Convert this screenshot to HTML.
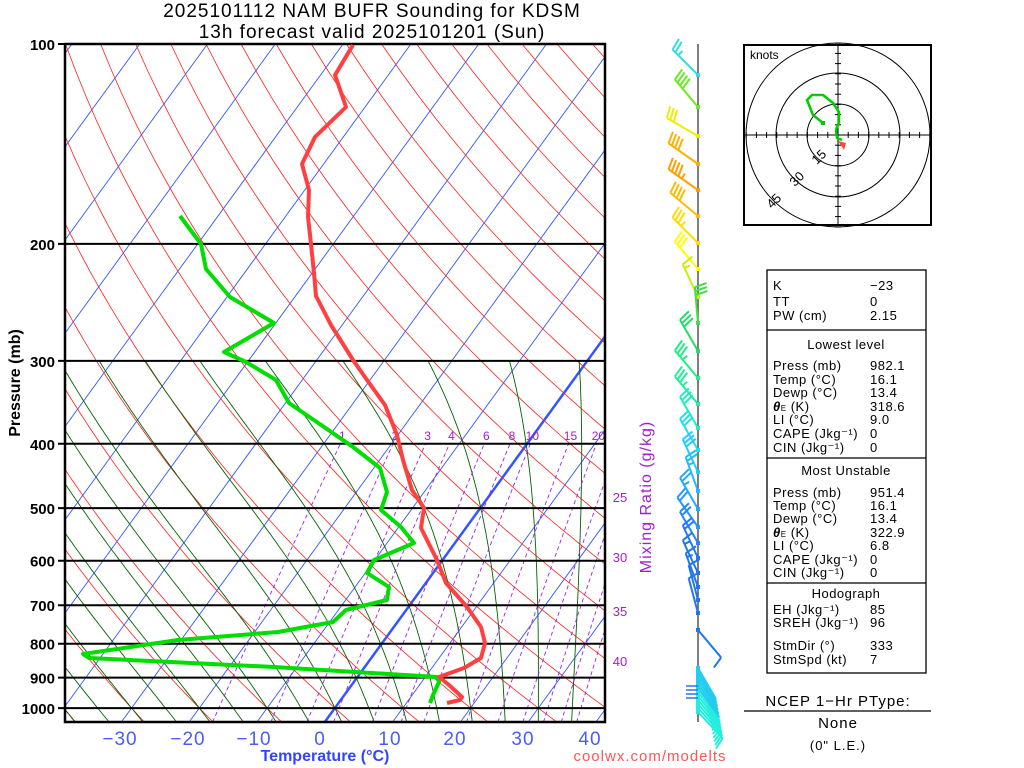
<!DOCTYPE html>
<html><head><meta charset="utf-8"><style>
html,body{margin:0;padding:0;background:#fff;width:1024px;height:768px;overflow:hidden}
svg{display:block}
text{font-family:"Liberation Sans",sans-serif}
</style></head><body>
<svg id="s" width="1024" height="768" viewBox="0 0 1024 768" xmlns="http://www.w3.org/2000/svg">
<defs><clipPath id="c"><rect x="65" y="44" width="540" height="678"/></clipPath></defs>
<g id="bg" clip-path="url(#c)"></g>
<g id="fg"></g>
<text x="372" y="17" font-size="19" text-anchor="middle" letter-spacing="1">2025101112 NAM BUFR Sounding for KDSM</text>
<text x="372" y="38" font-size="19" text-anchor="middle" letter-spacing="1">13h forecast valid 2025101201 (Sun)</text>
<text transform="translate(20,383) rotate(-90)" font-size="16" font-weight="bold" text-anchor="middle">Pressure (mb)</text>
<text x="325" y="761" font-size="16" font-weight="bold" fill="#3344ff" text-anchor="middle">Temperature (°C)</text>
<text transform="translate(651,497) rotate(-90)" font-size="16" fill="#a020d0" text-anchor="middle" letter-spacing="1">Mixing Ratio (g/kg)</text>
<text x="650" y="761" font-size="15" fill="#ff5555" text-anchor="middle" letter-spacing="1">coolwx.com/modelts</text>
<g font-size="13" fill="#a020d0" text-anchor="middle">
<text x="620" y="502">25</text><text x="620" y="562">30</text><text x="620" y="616">35</text><text x="620" y="666">40</text>
</g>
<g stroke="#000" fill="none">
<rect x="744" y="45" width="187" height="180" stroke-width="2"/>
<circle cx="838" cy="135" r="31"/><circle cx="838" cy="135" r="62"/><circle cx="838" cy="135" r="92"/>
<line x1="744" y1="135" x2="931" y2="135"/><line x1="838" y1="45" x2="838" y2="225"/>
</g>
<g id="hticks" stroke="#000"></g>
<text x="750" y="59" font-size="12">knots</text>
<text transform="translate(822,160) rotate(-45)" font-size="13" text-anchor="middle">15</text>
<text transform="translate(800,182) rotate(-45)" font-size="13" text-anchor="middle">30</text>
<text transform="translate(777,204) rotate(-45)" font-size="13" text-anchor="middle">45</text>
<polyline points="823,123 813,115 807,100 812,95 823,95 833,103 839,112 839,122 836,130 837,138 842,140" fill="none" stroke="#00cc00" stroke-width="2.5"/>
<rect x="821" y="121" width="4" height="4" fill="#00cc00"/>
<polygon points="838,141 846,143 844,150" fill="#ff4444"/>
<g stroke="#000" fill="none" stroke-width="1.3">
<rect x="767" y="270" width="159" height="403"/>
<line x1="767" y1="330" x2="926" y2="330"/><line x1="767" y1="458" x2="926" y2="458"/><line x1="767" y1="583" x2="926" y2="583"/>
<line x1="744" y1="711" x2="931" y2="711"/>
</g>
<g font-size="13" letter-spacing="0.5">
<text x="773" y="290">K</text><text x="870" y="290">−23</text>
<text x="773" y="306">TT</text><text x="870" y="306">0</text>
<text x="773" y="320">PW (cm)</text><text x="870" y="320">2.15</text>
<text x="846" y="349" text-anchor="middle">Lowest level</text>
<text x="773" y="370">Press (mb)</text><text x="870" y="370">982.1</text>
<text x="773" y="384">Temp (°C)</text><text x="870" y="384">16.1</text>
<text x="773" y="397">Dewp (°C)</text><text x="870" y="397">13.4</text>
<text x="773" y="411"><tspan font-weight="bold" font-style="italic">θ</tspan><tspan font-size="8">E</tspan> (K)</text><text x="870" y="411">318.6</text>
<text x="773" y="424">LI (°C)</text><text x="870" y="424">9.0</text>
<text x="773" y="438">CAPE (Jkg⁻¹)</text><text x="870" y="438">0</text>
<text x="773" y="452">CIN (Jkg⁻¹)</text><text x="870" y="452">0</text>
<text x="846" y="475" text-anchor="middle">Most Unstable</text>
<text x="773" y="497">Press (mb)</text><text x="870" y="497">951.4</text>
<text x="773" y="510">Temp (°C)</text><text x="870" y="510">16.1</text>
<text x="773" y="523">Dewp (°C)</text><text x="870" y="523">13.4</text>
<text x="773" y="537"><tspan font-weight="bold" font-style="italic">θ</tspan><tspan font-size="8">E</tspan> (K)</text><text x="870" y="537">322.9</text>
<text x="773" y="550">LI (°C)</text><text x="870" y="550">6.8</text>
<text x="773" y="564">CAPE (Jkg⁻¹)</text><text x="870" y="564">0</text>
<text x="773" y="577">CIN (Jkg⁻¹)</text><text x="870" y="577">0</text>
<text x="846" y="598" text-anchor="middle">Hodograph</text>
<text x="773" y="614">EH (Jkg⁻¹)</text><text x="870" y="614">85</text>
<text x="773" y="627">SREH (Jkg⁻¹)</text><text x="870" y="627">96</text>
<text x="773" y="650">StmDir (°)</text><text x="870" y="650">333</text>
<text x="773" y="664">StmSpd (kt)</text><text x="870" y="664">7</text>
</g>
<text x="838" y="706" font-size="15" text-anchor="middle" letter-spacing="1">NCEP 1−Hr PType:</text>
<text x="838" y="728" font-size="15" text-anchor="middle" letter-spacing="1">None</text>
<text x="838" y="750" font-size="13" text-anchor="middle" letter-spacing="1">(0" L.E.)</text>
<g font-size="19" fill="#4a5cff" text-anchor="middle" letter-spacing="1">
<text x="120" y="745">−30</text><text x="188" y="745">−20</text><text x="254" y="745">−10</text><text x="320" y="745">0</text>
<text x="390" y="745">10</text><text x="455" y="745">20</text><text x="523" y="745">30</text><text x="590" y="745">40</text>
</g>
</svg>
<script>
var NS="http://www.w3.org/2000/svg";
function el(p,t,a){var e=document.createElementNS(NS,t);for(var k in a)e.setAttribute(k,a[k]);p.appendChild(e);return e;}
var bg=document.getElementById("bg"),fg=document.getElementById("fg");
function Y(p){return 44+288.4*Math.log(p/100);}
function X(T,p){return 335+6.78*T+0.727*(708-Y(p));}
function pl(g,pts,st){el(g,"polyline",Object.assign({points:pts.map(function(q){return q[0].toFixed(1)+","+q[1].toFixed(1)}).join(" "),fill:"none"},st));}
for(var T=-160;T<=50;T+=10){var p1=[[X(T,1050),Y(1050)],[X(T,100),Y(100)]];
 pl(bg,p1,{stroke:"#3355ff","stroke-width":T==0?2.5:0.9});}
for(var k=-20;k<=25;k++){var th=273.15+10*k,a=[];for(var p=1050;p>=100;p-=10){a.push([X(th*Math.pow(p/1000,0.2857)-273.15,p),Y(p)]);}
 pl(bg,a,{stroke:"#ff2020","stroke-width":0.8});}
function es(t){return 6.112*Math.exp(17.67*t/(t+243.5));}
function dTdp(Tk,p){var tc=Tk-273.15,e=es(tc),rs=0.622*e/(p-e),Rd=287,Lv=2.5e6,cp=1005;
 return (Rd*Tk+Lv*rs)/(p*(cp+Lv*Lv*rs*0.622/(Rd*Tk*Tk)));}
for(var tw=-40;tw<=40;tw+=5){var a=[],Tk=tw+273.15,p=1000;
 var Td=Tk,pp=1000;for(;pp<1050;pp+=5){Td+=dTdp(Td,pp)*5;}a.push([X(Td-273.15,1050),Y(1050)]);
 for(p=1000;p>=300;p-=5){a.push([X(Tk-273.15,p),Y(p)]);Tk-=dTdp(Tk,p)*5;}
 pl(bg,a,{stroke:"#006400","stroke-width":0.9});}
var ws=[1,2,3,4,6,8,10,15,20,25,30,35,40];
ws.forEach(function(w){var a=[];for(var p=1050;p>=400;p-=10){var e=w*p/(622+w),l=Math.log(e/6.112),td=243.5*l/(17.67-l);a.push([X(td,p),Y(p)]);}
 pl(bg,a,{stroke:"#a020f0","stroke-width":0.9,"stroke-dasharray":"4,3"});
 if(w<=20){var e=w*400/(622+w),l=Math.log(e/6.112),td=243.5*l/(17.67-l);var t=el(fg,"text",{x:X(td,400)+2,y:440,"font-size":12,fill:"#a020d0","text-anchor":"middle"});t.textContent=w;}});
[100,200,300,400,500,600,700,800,900,1000].forEach(function(p){var y=Y(p);
 el(fg,"line",{x1:58,y1:y,x2:605,y2:y,stroke:"#000","stroke-width":2});
 var t=el(fg,"text",{x:55,y:y+6,"font-size":15,"font-weight":"bold","text-anchor":"end"});t.textContent=p;});
el(fg,"rect",{x:65,y:44,width:540,height:678,fill:"none",stroke:"#000","stroke-width":2.5});
var tp=[[353,45],[335,75],[346,107],[315,137],[302,164],[309,190],[308,217],[311,244],[314,273],[316,296],[331,325],[353,360],[367,380],[385,405],[397,435],[403,460],[412,490],[424,508],[421,528],[437,560],[446,583],[467,607],[481,627],[485,643],[481,658],[464,668],[439,677],[449,685],[462,697],[460,700],[447,703]];
var dp=[[180,216],[201,244],[206,269],[230,297],[274,323],[224,352],[246,362],[276,380],[289,403],[324,427],[353,447],[380,468],[387,492],[381,510],[401,527],[414,543],[374,560],[367,573],[389,587],[387,600],[346,610],[333,622],[278,632],[178,640],[83,654],[89,658],[274,667],[437,677],[439,682],[433,695],[430,703]];
pl(fg,dp,{stroke:"#00dd00","stroke-width":4,"stroke-linejoin":"round"});
pl(fg,tp,{stroke:"#ff4040","stroke-width":4,"stroke-linejoin":"round"});
var h=document.getElementById("hticks");
for(var i=-9;i<=9;i++){if(!i)continue;var d=i*10.2;el(h,"line",{x1:838+d,y1:132,x2:838+d,y2:138});el(h,"line",{x1:835,y1:135+d,x2:841,y2:135+d});}
el(fg,"line",{x1:698,y1:44,x2:698,y2:722,stroke:"#555","stroke-width":1.5});
var bb=[[75,315,25,"#33dddd"],[107,320,40,"#66ee22"],[136,300,30,"#eeee00"],[164,305,40,"#ffb000"],[190,305,45,"#ffa000"],[216,310,40,"#ffbb00"],[243,315,35,"#ffdd00"],[269,320,30,"#ffff00"],[297,335,15,"#ccee00"],[323,355,30,"#44dd44"],[351,330,30,"#22dd66"],[378,320,35,"#22ee88"],[404,320,35,"#22ee99"],[428,330,30,"#22eebb"],[450,330,30,"#22ddee"],[472,335,30,"#22ccff"],[491,340,25,"#22bbff"],[509,330,25,"#22aaff"],[527,325,20,"#2299ff"],[543,330,20,"#2288ff"],[558,335,20,"#2277ff"],[573,335,15,"#1f77ee"],[587,340,15,"#1f77ee"],[600,345,10,"#1f77ee"],[613,345,10,"#1f77ee"],[630,140,10,"#1f77ee"]];
for(var y=668;y<=715;y+=4){bb.push([y,150-(y-668)*0.3,10,y>690?"#22eedd":"#22ccee"]);}
bb.forEach(function(b){var y=b[0],r=b[1]*Math.PI/180,L=36,sx=Math.sin(r),cy=-Math.cos(r);
 var ex=698+L*sx,ey=y+L*cy,c=b[3];
 el(fg,"line",{x1:698,y1:y,x2:ex,y2:ey,stroke:c,"stroke-width":2});
 el(fg,"rect",{x:696,y:y-2,width:4,height:4,fill:c});
 var n=Math.round(b[2]/5),pos=0;
 var px=-cy,py=sx;
 for(var i=0;i<n;){var bx=ex-pos*sx,by=ey-pos*cy;
  if(n-i>=10){el(fg,"polygon",{points:bx+","+by+" "+(bx+12*px)+","+(by+12*py)+" "+(bx-5*sx)+","+(by-5*cy),fill:c});i+=10;pos+=7;}
  else if(n-i>=2){el(fg,"line",{x1:bx,y1:by,x2:bx+12*px+3*sx,y2:by+12*py+3*cy,stroke:c,"stroke-width":2});i+=2;pos+=4;}
  else{if(pos==0)pos=4;var bx2=ex-pos*sx,by2=ey-pos*cy;el(fg,"line",{x1:bx2,y1:by2,x2:bx2+6*px,y2:by2+6*py,stroke:c,"stroke-width":2});i+=1;}}
});
[686,690,694,698].forEach(function(y){el(fg,"line",{x1:686,y1:y,x2:698,y2:y,stroke:"#1f77ee","stroke-width":1.5});});
</script>
</body></html>
